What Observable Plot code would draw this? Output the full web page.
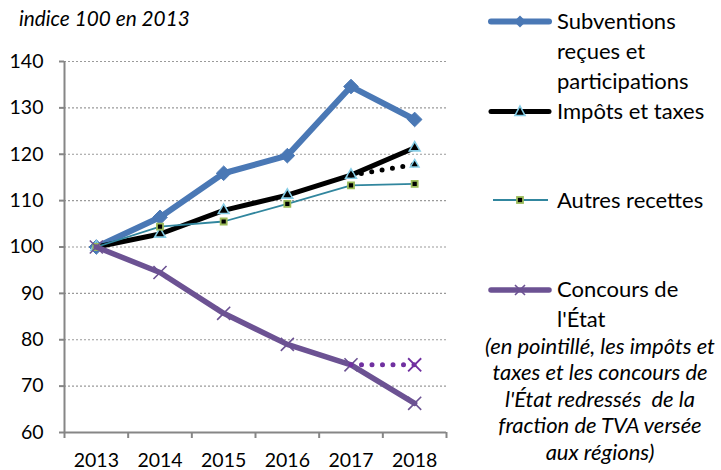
<!DOCTYPE html>
<html><head><meta charset="utf-8">
<script src="https://cdn.jsdelivr.net/npm/d3@7"></script>
<script src="https://cdn.jsdelivr.net/npm/@observablehq/plot@0.6"></script>
<style>
body{margin:0;background:#fff;font-family:Lato, sans-serif;}
#wrap{position:relative;width:721px;height:470px;overflow:hidden;background:#fff}
</style></head><body><div id="wrap"></div>
<script>
// ---- data ----
const years = [2013, 2014, 2015, 2016, 2017, 2018];
const subventions = [100, 106.4, 115.9, 119.7, 134.6, 127.5];
const impots      = [100, 102.8, 107.9, 111.2, 115.5, 121.4];
const autres      = [100, 104.4, 105.5, 109.3, 113.3, 113.6];
const concours    = [100, 94.5, 85.7, 79.0, 74.6, 66.3];
const redresseYears    = [2017, 2018];
const impotsRedresse   = [115.5, 117.8];
const concoursRedresse = [74.6, 74.6];
const yTicks = [60, 70, 80, 90, 100, 110, 120, 130, 140];
const xBounds = [2012.5, 2013.5, 2014.5, 2015.5, 2016.5, 2017.5, 2018.5];
const title = "indice 100 en 2013";
const seriesLines = [["Subventions", "reçues et", "participations"], ["Impôts et taxes"], ["Autres recettes"], ["Concours de", "l'État"]];
const note = ["(en pointillé, les impôts et", "taxes et les concours de", "l'État redressés  de la", "fraction de TVA versée", "aux régions)"];

const toRows = (xs, vs) => xs.map((x, i) => ({year: x, value: vs[i]}));
const S = toRows(years, subventions), I = toRows(years, impots), A = toRows(years, autres), C = toRows(years, concours);
const IR = toRows(redresseYears, impotsRedresse), CR = toRows(redresseYears, concoursRedresse);

const BLUE = "#4A78B5", BLACK = "#000", TEAL = "#31869E", PURPLE = "#6C5293", PURPLE2 = "#7030A0";
const TRI = "#86CDE6", SQ = "#9BBB59";
const GRAY = "#868686";

const chart = Plot.plot({
  width: 721, height: 470,
  marginLeft: 64, marginRight: 275, marginTop: 61, marginBottom: 38,
  x: {domain: [2012.5, 2018.5], axis: null},
  y: {domain: [60, 140], axis: null},
  style: {fontFamily: "Lato, sans-serif", fontSize: "19.5px", color: "#000", background: "transparent", overflow: "visible"},
  marks: [
    Plot.gridY(yTicks.filter(d => d > 60), {stroke: "#9a9a9a", strokeOpacity: 1, strokeWidth: 1.2, strokeDasharray: "2,2"}),
    Plot.axisY(yTicks, {tickSize: 5, tickFormat: () => "", stroke: GRAY, strokeWidth: 2, label: null}),
    Plot.axisY(yTicks, {tickSize: 0, tickPadding: 21, fill: "#000", fontSize: 19.5, label: null}),
    Plot.axisX(xBounds, {tickSize: 6, tickFormat: () => "", stroke: GRAY, strokeWidth: 2, label: null}),
    Plot.axisX(years, {tickSize: 0, tickPadding: 20.5, tickFormat: d => String(d), fill: "#000", fontSize: 19.5, label: null}),
    Plot.ruleX([2012.5], {y1: 60, y2: 140, stroke: GRAY, strokeWidth: 2}),
    Plot.ruleY([60], {stroke: GRAY, strokeWidth: 2}),
    // Subventions
    Plot.line(S, {x: "year", y: "value", stroke: BLUE, strokeWidth: 6, strokeLinejoin: "round"}),
    Plot.dot(S, {x: "year", y: "value", symbol: "diamond2", r: 6.6, fill: BLUE, stroke: BLUE, strokeWidth: 1}),
    // Impôts
    Plot.line(I, {x: "year", y: "value", stroke: BLACK, strokeWidth: 5, strokeLinejoin: "round"}),
    Plot.dot(I, {x: "year", y: "value", symbol: "triangle", r: 4, fill: "#000", stroke: TRI, strokeWidth: 1.6}),
    // Autres
    Plot.line(A, {x: "year", y: "value", stroke: TEAL, strokeWidth: 1.8}),
    Plot.dot(A, {x: "year", y: "value", symbol: "square", r: 3.4, fill: "#000", stroke: SQ, strokeWidth: 1.8}),
    // Concours
    Plot.line(C, {x: "year", y: "value", stroke: PURPLE, strokeWidth: 5.5, strokeLinejoin: "round"}),
    Plot.dot(C, {x: "year", y: "value", symbol: "times", r: 6, stroke: PURPLE, strokeWidth: 1.6}),
    // redressés (dotted)
    Plot.line(IR, {x: "year", y: "value", stroke: "#000", strokeWidth: 5, strokeDasharray: "0,10.5", strokeLinecap: "round"}),
    Plot.dot(IR.slice(1), {x: "year", y: "value", symbol: "triangle", r: 3.2, fill: "#000", stroke: TRI, strokeWidth: 1.5}),
    Plot.line(CR, {x: "year", y: "value", stroke: PURPLE2, strokeWidth: 5, strokeDasharray: "0,10.5", strokeLinecap: "round"}),
    Plot.dot(CR.slice(1), {x: "year", y: "value", symbol: "times", r: 6, stroke: PURPLE2, strokeWidth: 1.8})
  ]
});
const wrap = document.getElementById("wrap");
chart.style.position = "absolute"; chart.style.left = "0"; chart.style.top = "0";
wrap.appendChild(chart);

// ---- overlay: title and legend ----
const ns = "http://www.w3.org/2000/svg";
const leg = document.createElementNS(ns, "svg");
leg.setAttribute("width", 721); leg.setAttribute("height", 470);
leg.style.position = "absolute"; leg.style.left = "0"; leg.style.top = "0";
leg.style.fontFamily = "Lato, sans-serif";
wrap.appendChild(leg);
function el(name, attrs, txt) {
  const e = document.createElementNS(ns, name);
  for (const k in attrs) e.setAttribute(k, attrs[k]);
  if (txt != null) e.textContent = txt;
  leg.appendChild(e); return e;
}
function text(txt, x, y, size, opts = {}) {
  return el("text", {x, y, "font-size": size, fill: "#000", "text-anchor": opts.anchor || "start",
    "font-style": opts.italic ? "italic" : "normal", style: "white-space:pre"}, txt);
}
// title
text(title, 19, 26, 20.8, {italic: true});

const lx1 = 491, lx2 = 549, lc = 520;
const ys = [21.5, 111.5, 200, 290];
// subventions
el("line", {x1: lx1, x2: lx2, y1: ys[0], y2: ys[0], stroke: BLUE, "stroke-width": 6, "stroke-linecap": "round"});
el("path", {d: `M${lc},${ys[0]-6}L${lc+6},${ys[0]}L${lc},${ys[0]+6}L${lc-6},${ys[0]}Z`, fill: BLUE});
// impôts
el("line", {x1: lx1, x2: lx2, y1: ys[1], y2: ys[1], stroke: "#000", "stroke-width": 5, "stroke-linecap": "round"});
el("path", {d: `M${lc},${ys[1]-5.5}L${lc+5},${ys[1]+4}L${lc-5},${ys[1]+4}Z`, fill: "#000", stroke: TRI, "stroke-width": 1.6});
// autres
el("line", {x1: lx1+2, x2: lx2-1, y1: ys[2], y2: ys[2], stroke: TEAL, "stroke-width": 1.8});
el("rect", {x: lc-3, y: ys[2]-3, width: 6, height: 6, fill: "#000", stroke: SQ, "stroke-width": 1.8});
// concours
el("line", {x1: lx1, x2: lx2, y1: ys[3], y2: ys[3], stroke: PURPLE, "stroke-width": 5.5, "stroke-linecap": "round"});
el("path", {d: `M${lc-5},${ys[3]-5}L${lc+5},${ys[3]+5}M${lc-5},${ys[3]+5}L${lc+5},${ys[3]-5}`, stroke: PURPLE, "stroke-width": 1.6, fill: "none"});

// legend labels (baselines)
const baselines = [[29.3, 59.3, 89.3], [119], [207.5], [297, 327]];
seriesLines.forEach((lines, i) => lines.forEach((l, j) => text(l, 557, baselines[i][j], 22)));
note.forEach((line, i) => text(line, 600, 353.5 + i * 26.6, 22, {italic: true, anchor: "middle"}));
</script></body></html>
